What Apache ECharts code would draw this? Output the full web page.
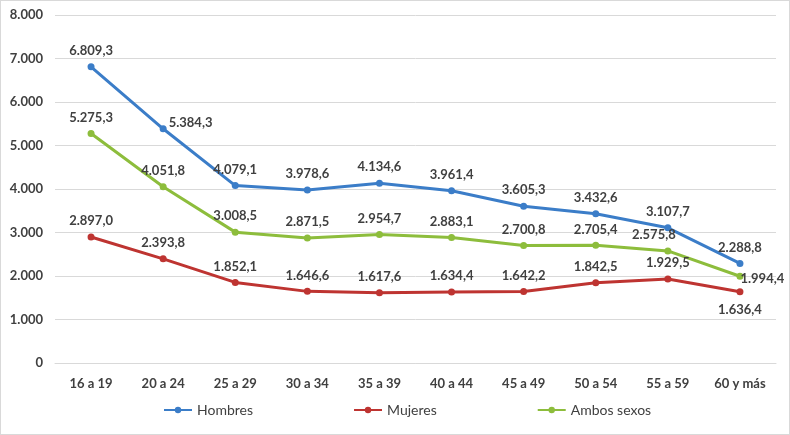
<!DOCTYPE html>
<html>
<head>
<meta charset="utf-8">
<script src="https://cdn.jsdelivr.net/npm/echarts@6/dist/echarts.min.js"></script>
<style>
  html, body { margin: 0; padding: 0; background: #fff; }
  #chart { width: 790px; height: 435px; box-sizing: border-box; border: 1px solid #d9d9d9; }
</style>
</head>
<body>
<div id="chart"></div>
<script>
// categories and values
const grupos = ["16 a 19", "20 a 24", "25 a 29", "30 a 34", "35 a 39", "40 a 44", "45 a 49", "50 a 54", "55 a 59", "60 y más"];
const hombres = [6809.3, 5384.3, 4079.1, 3978.6, 4134.6, 3961.4, 3605.3, 3432.6, 3107.7, 2288.8];
const mujeres = [2897.0, 2393.8, 1852.1, 1646.6, 1617.6, 1634.4, 1642.2, 1842.5, 1929.5, 1636.4];
const ambos = [5275.3, 4051.8, 3008.5, 2871.5, 2954.7, 2883.1, 2700.8, 2705.4, 2575.8, 1994.4];

const textColor = "#404040";
const fontFamily = "Lato, 'Open Sans', sans-serif";

// Spanish style number: 1.234,5
function fmt(v, dec) {
  const parts = v.toFixed(dec).split(".");
  parts[0] = parts[0].replace(/\B(?=(\d{3})+(?!\d))/g, ".");
  return parts.length > 1 ? parts[0] + "," + parts[1] : parts[0];
}

// per-point label placement, like the original chart
function points(values, special) {
  return values.map((v, i) => {
    const p = { value: v };
    if (special[i]) p.label = special[i];
    return p;
  });
}

function makeSeries(name, values, color, special) {
  return {
    name: name,
    type: "line",
    data: points(values, special),
    symbol: "circle",
    symbolSize: 7,
    lineStyle: { width: 3, color: color },
    itemStyle: { color: color },
    label: {
      show: true,
      position: "top",
      distance: 6,
      color: textColor,
      fontWeight: "bold",
      fontSize: 13,
      fontFamily: fontFamily,
      formatter: p => fmt(p.value, 1)
    }
  };
}

const chart = echarts.init(document.getElementById("chart"));
chart.setOption({
  animation: false,
  grid: { left: 54, right: 13, top: 14, bottom: 71, containLabel: false },
  legend: {
    bottom: 12,
    left: 157,
    itemGap: 100,
    itemWidth: 28,
    itemHeight: 8,
    textStyle: { color: textColor, fontSize: 14, fontFamily: fontFamily },
    data: ["Hombres", "Mujeres", "Ambos sexos"]
  },
  xAxis: {
    type: "category",
    data: grupos,
    boundaryGap: true,
    axisLine: { lineStyle: { color: "#d9d9d9" } },
    axisTick: { show: false },
    axisLabel: {
      color: textColor,
      fontWeight: "bold",
      fontSize: 13,
      fontFamily: fontFamily,
      margin: 14
    }
  },
  yAxis: {
    type: "value",
    min: 0,
    max: 8000,
    interval: 1000,
    axisLine: { show: false },
    axisTick: { show: false },
    splitLine: { lineStyle: { color: "#d9d9d9" } },
    axisLabel: {
      color: textColor,
      fontWeight: "bold",
      fontSize: 13,
      fontFamily: fontFamily,
      margin: 12,
      formatter: v => fmt(v, 0)
    }
  },
  series: [
    makeSeries("Hombres", hombres, "#3b7dc8", {
      1: { position: "right", offset: [-4, -6] }
    }),
    makeSeries("Mujeres", mujeres, "#be3431", {
      9: { position: "bottom", distance: 8 }
    }),
    makeSeries("Ambos sexos", ambos, "#8dbd3c", {
      8: { position: "top", offset: [-14, 0] },
      9: { position: "right", offset: [-9, 3] }
    })
  ]
});
</script>
</body>
</html>
